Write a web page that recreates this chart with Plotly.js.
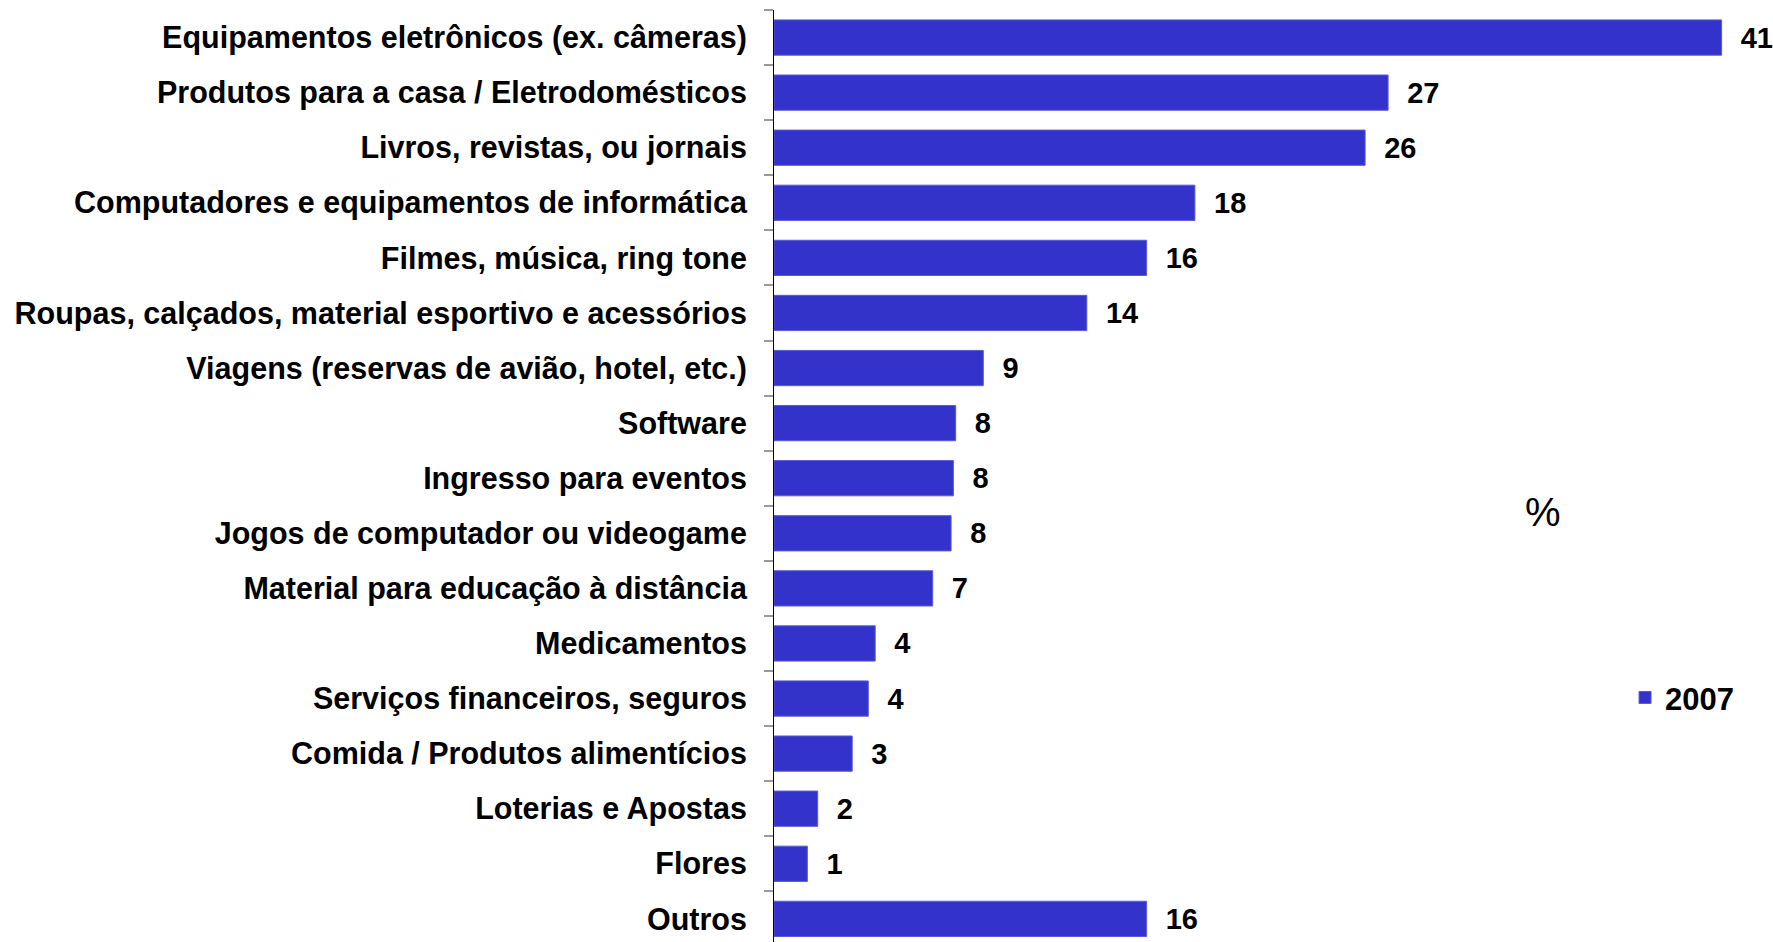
<!DOCTYPE html>
<html>
<head>
<meta charset="utf-8">
<script src="https://cdn.plot.ly/plotly-3.0.1.min.js"></script>
<style>html,body{margin:0;padding:0;background:#fff;}#chart{width:1773px;height:942px;}</style>
</head>
<body>
<div id="chart"></div>
<script>
const categories = [
  "Equipamentos eletrônicos (ex. câmeras)",
  "Produtos para a casa / Eletrodomésticos",
  "Livros, revistas, ou jornais",
  "Computadores e equipamentos de informática",
  "Filmes, música, ring tone",
  "Roupas, calçados, material esportivo e acessórios",
  "Viagens (reservas de avião, hotel, etc.)",
  "Software",
  "Ingresso para eventos",
  "Jogos de computador ou videogame",
  "Material para educação à distância",
  "Medicamentos",
  "Serviços financeiros, seguros",
  "Comida / Produtos alimentícios",
  "Loterias e Apostas",
  "Flores",
  "Outros"
];
const values2007 = [41.2, 26.7, 25.7, 18.3, 16.2, 13.6, 9.1, 7.9, 7.8, 7.7, 6.9, 4.4, 4.1, 3.4, 1.9, 1.45, 16.2];
const seriesName = "2007";
const unitLabel = "%";

const FONT = "'Liberation Sans', Arial, Helvetica, sans-serif";

const trace = {
  type: "bar",
  orientation: "h",
  name: seriesName,
  y: categories,
  x: values2007,
  marker: { color: "#3333cc", line: { color: "#5a5ad6", width: 1 } },
  width: 0.64,
  texttemplate: "\u00a0\u00a0%{x:.0f}",
  textposition: "outside",
  cliponaxis: false,
  textfont: { family: FONT, size: 29, color: "#000", weight: "bold" },
  hoverinfo: "x+y"
};

const layout = {
  width: 1773,
  height: 942,
  margin: { l: 774, r: 10, t: 10, b: 0, pad: 0 },
  paper_bgcolor: "#fff",
  plot_bgcolor: "#fff",
  showlegend: true,
  legend: {
    x: 0.8605, xanchor: "left",
    y: 0.262, yanchor: "middle",
    font: { family: FONT, size: 31, color: "#000", weight: "bold" },
    bgcolor: "rgba(0,0,0,0)",
    itemwidth: 30
  },
  xaxis: {
    range: [0, 43],
    visible: false,
    showgrid: false,
    zeroline: false,
    fixedrange: true
  },
  yaxis: {
    type: "category",
    range: [16.42, -0.5],
    showline: true,
    linecolor: "#000",
    linewidth: 1,
    ticks: "outside",
    tickson: "boundaries",
    ticklen: 9,
    tickcolor: "#999",
    tickwidth: 2,
    ticklabelstandoff: 20,
    showgrid: false,
    zeroline: false,
    tickfont: { family: FONT, size: 30.5, color: "#000", weight: "bold" },
    fixedrange: true
  },
  annotations: [{
    text: unitLabel,
    xref: "paper", yref: "paper",
    x: 0.7776, y: 0.4614,
    xanchor: "center", yanchor: "middle",
    showarrow: false,
    font: { family: FONT, size: 40, color: "#000" }
  }]
};

Plotly.newPlot("chart", [trace], layout, { displayModeBar: false, staticPlot: true });
</script>
</body>
</html>
